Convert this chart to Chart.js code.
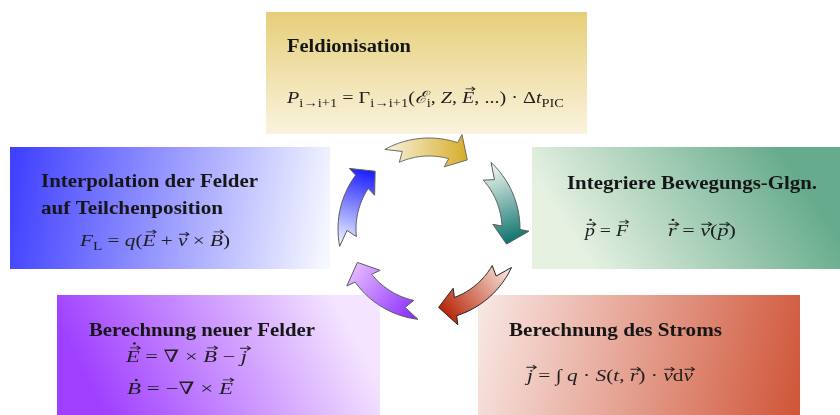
<!DOCTYPE html>
<html><head><meta charset="utf-8">
<script src="https://cdn.jsdelivr.net/npm/chart.js@4"></script>
<style>html,body{margin:0;padding:0;background:#fff}#wrap{width:840px;height:415px;position:relative}</style>
</head><body><div id="wrap"><canvas id="c"></canvas></div>
<script>
// ---- content ----
const stepTitles = [
  ['Feldionisation'],
  ['Integriere Bewegungs-Glgn.'],
  ['Berechnung des Stroms'],
  ['Berechnung neuer Felder'],
  ['Interpolation der Felder', 'auf Teilchenposition']
];
// token: [text, flags]  i=italic s=subscript v=vector arrow d=dot
const formulaIonisation = [[['P','i'],['i→i+1','s'],[' = Γ',''],['i→i+1','s'],['(',''],['ℰ','i'],['i','s'],[', ',''],['Z','i'],[', ',''],['E','iv'],[', ...) · Δ',''],['t','i'],['PIC','s']]];
const formulaMotion = [[['p','ivd'],[' = ',''],['F','iv']], [['r','ivd'],[' = ',''],['v','iv'],['(',''],['p','iv'],[')','']]];
const formulaCurrent = [[['j','iv'],[' = ∫ ',''],['q','i'],[' · ',''],['S','i'],['(',''],['t','i'],[', ',''],['r','iv'],[') · ',''],['v','iv'],['d',''],['v','iv']]];
const formulaFields = [[['E','ivd'],[' = ∇ × ',''],['B','iv'],[' − ',''],['j','iv']], [['B','id'],[' = −∇ × ',''],['E','iv']]];
const formulaInterp = [[['F','i'],['L','s'],[' = ',''],['q','i'],['(',''],['E','iv'],[' + ',''],['v','iv'],[' × ',''],['B','iv'],[')','']]];
const stepFormulas = [formulaIonisation, formulaMotion, formulaCurrent, formulaFields, formulaInterp];

// ---- layout (data units of the x/y scales) ----
const boxRects = [[266,12,587,134],[532,147,840,269],[478,295,800,415],[57,295,380,415],[10,147,330,269]];
const titlePos = [[[287,52,124]],[[567,189,250]],[[509,336,213]],[[89,336,226]],[[41,187,217],[41,214,182]]];
const formulaPos = [[[287,103,277]],[[585,236,43],[668,236,68]],[[527,381,166]],[[126,362,121],[127,394,106]],[[80,246,150]]];
const cycleCenter = [429, 229];
const arrowAngles = [-90, -18, 54, 126, 198];

// ---- styles ----
const boxGrad = [
  [0,0,0,1,'#e6cf7a','#faf3de'],
  [0.8,0,0.2,1,'#66ab8d','#e6f1e2'],
  [1,0.8,0,0.2,'#d0573a','#f8e6e2'],
  [0.15,1,0.85,0,'#a040ff','#f4e4ff'],
  [0,0.3,1,0.7,'#4040ff','#f6f8ff']
];
const arrowColors = [
  ['#f7efd6','#d6ac26','#6a6a6a'],
  ['#eef6ee','#08706a','#5a5a5a'],
  ['#f8e2da','#b52000','#222222'],
  ['#8a2cff','#e6bcff','#5a5a5a'],
  ['#eaf0ff','#1414ff','#5a5a5a']
];

const MATHFONT = '"Liberation Serif","DejaVu Serif",serif';

function letterHeight(ch){
  if (/[A-Z]/.test(ch)) return 0.68;
  if (/[ij]/.test(ch)) return 0.66;
  if (/[bdfhklt]/.test(ch)) return 0.69;
  return 0.45;
}

function drawMath(ctx, tokens, x, y, targetW, size){
  const items = [];
  let w = 0;
  for (const [s, fl] of tokens){
    const sub = fl.includes('s');
    const fs = sub ? size*0.72 : size;
    const font = (fl.includes('i') ? 'italic ' : '') + fs.toFixed(2) + 'px ' + MATHFONT;
    ctx.font = font;
    const m = ctx.measureText(s).width;
    items.push({s, fl, font, fs, x: w, w: m, dy: sub ? size*0.23 : 0});
    w += m;
  }
  const sx = targetW / w;
  ctx.save();
  ctx.translate(x, y);
  ctx.scale(sx, 1);
  ctx.fillStyle = '#1e1e1e';
  ctx.strokeStyle = '#1e1e1e';
  ctx.textBaseline = 'alphabetic';
  for (const it of items){
    ctx.font = it.font;
    ctx.fillText(it.s, it.x, it.dy);
    const lh = letterHeight(it.s);
    const h = lh * size;
    const skew = it.fl.includes('i') ? (/[A-Z]/.test(it.s) ? 0.1 : 0.06) * size : 0;
    const cx = it.x + it.w/2 + skew;
    let top = -h;
    if (it.fl.includes('v')){
      const yA = top - (lh < 0.5 ? 0.24 : 0.15)*size;
      const len = 0.46*size;
      ctx.lineWidth = 0.9;
      ctx.beginPath();
      ctx.moveTo(cx - len/2, yA); ctx.lineTo(cx + len/2, yA);
      ctx.moveTo(cx + len/2 - 2.6, yA - 2.1); ctx.lineTo(cx + len/2, yA); ctx.lineTo(cx + len/2 - 2.6, yA + 2.1);
      ctx.stroke();
      top = yA - 2;
    }
    if (it.fl.includes('d')){
      ctx.beginPath();
      ctx.arc(cx - (it.fl.includes('v') ? 0.5 : 0), top - 0.14*size, 1.15, 0, Math.PI*2);
      ctx.fill();
    }
  }
  ctx.restore();
}

function drawTitle(ctx, text, x, y, targetW, size){
  ctx.save();
  ctx.font = 'bold ' + size + 'px ' + MATHFONT;
  const m = ctx.measureText(text).width;
  ctx.translate(x, y);
  ctx.scale(targetW / m, 1);
  ctx.fillStyle = '#161616';
  ctx.textBaseline = 'alphabetic';
  ctx.fillText(text, 0, 0);
  ctx.restore();
}

const diagramPlugin = {
  id: 'picCycle',
  beforeDatasetsDraw(chart){
    const ctx = chart.ctx;
    const xs = chart.scales.x, ys = chart.scales.y;
    const X = v => xs.getPixelForValue(v), Y = v => ys.getPixelForValue(v);
    // boxes
    boxRects.forEach((r, i) => {
      const [x0,y0,x1,y1] = [X(r[0]),Y(r[1]),X(r[2]),Y(r[3])];
      const g = boxGrad[i];
      const grad = ctx.createLinearGradient(x0+(x1-x0)*g[0], y0+(y1-y0)*g[1], x0+(x1-x0)*g[2], y0+(y1-y0)*g[3]);
      grad.addColorStop(0, g[4]); grad.addColorStop(1, g[5]);
      ctx.fillStyle = grad;
      ctx.fillRect(x0, y0, x1-x0, y1-y0);
    });
    // texts
    stepTitles.forEach((lines, i) => {
      lines.forEach((t, k) => {
        const p = titlePos[i][k];
        drawTitle(ctx, t, X(p[0]), Y(p[1]), X(p[0]+p[2]) - X(p[0]), 18);
      });
    });
    stepFormulas.forEach((forms, i) => {
      forms.forEach((f, k) => {
        const p = formulaPos[i][k];
        drawMath(ctx, f, X(p[0]), Y(p[1]), X(p[0]+p[2]) - X(p[0]), 17);
      });
    });
    // arrows
    const [ccx, ccy] = cycleCenter;
    const P = (r, a) => { const t = a*Math.PI/180; return [X(ccx + r*Math.cos(t)), Y(ccy + r*Math.sin(t))]; };
    const rIn = 73, rOut = 91, rMid = 82, rTip = 79, rBo = 100, rBi = 64, headArc = 17;
    const dg = (arc, r) => arc / r * 180 / Math.PI;
    arrowAngles.forEach((c, i) => {
      const a0 = c - 29, a1 = c + 29;
      ctx.beginPath();
      let p = P(rOut, a0); ctx.moveTo(p[0], p[1]);
      const aHo = a1 - dg(headArc, rOut);
      for (let k = 1; k <= 30; k++){ p = P(rOut, a0 + (aHo - a0)*k/30); ctx.lineTo(p[0], p[1]); }
      p = P(rBo, a1 - dg(headArc, rBo)); ctx.lineTo(p[0], p[1]);
      p = P(rTip, a1); ctx.lineTo(p[0], p[1]);
      p = P(rBi, a1 - dg(headArc, rBi)); ctx.lineTo(p[0], p[1]);
      const aHi = a1 - dg(headArc, rIn);
      const aTi = a0 + 5;
      for (let k = 0; k <= 30; k++){ p = P(rIn, aHi + (aTi - aHi)*k/30); ctx.lineTo(p[0], p[1]); }
      p = P(rMid, a0 + 10); ctx.lineTo(p[0], p[1]);
      ctx.closePath();
      const s = P(rMid, a0), e = P(rMid, a1);
      const grad = ctx.createLinearGradient(s[0], s[1], e[0], e[1]);
      grad.addColorStop(0, arrowColors[i][0]);
      grad.addColorStop(1, arrowColors[i][1]);
      ctx.fillStyle = grad;
      ctx.fill();
      ctx.lineWidth = 1;
      ctx.lineJoin = 'miter';
      ctx.strokeStyle = arrowColors[i][2];
      ctx.stroke();
    });
  }
};

new Chart(document.getElementById('c'), {
  type: 'scatter',
  data: { datasets: [] },
  options: {
    responsive: true,
    maintainAspectRatio: false,
    animation: false,
    layout: { padding: 0 },
    plugins: { legend: { display: false }, tooltip: { enabled: false } },
    scales: {
      x: { type: 'linear', min: 0, max: 840, display: false },
      y: { type: 'linear', min: 0, max: 415, reverse: true, display: false }
    }
  },
  plugins: [diagramPlugin]
});
</script>
</body></html>
